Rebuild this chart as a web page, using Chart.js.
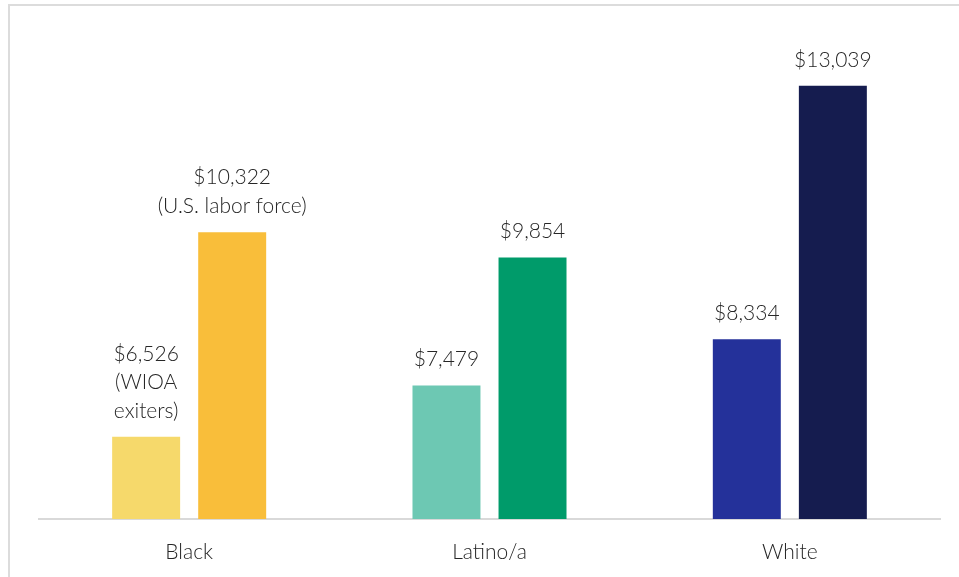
<!DOCTYPE html>
<html>
<head>
<meta charset="utf-8">
<script src="https://cdn.jsdelivr.net/npm/chart.js@4"></script>
<style>
  html, body { margin: 0; padding: 0; background: #fff; overflow: hidden; }
  #frame {
    position: absolute; left: 8px; top: 4px; width: 1000px; height: 600px;
    border-top: 2px solid #dcdcdc; border-left: 2px solid #dcdcdc;
  }
  #wrap { position: absolute; left: 0; top: 0; width: 959px; height: 577px; }
</style>
</head>
<body>
<div id="frame"></div>
<div id="wrap"><canvas id="grafico"></canvas></div>
<script>
// datos
var categorias = ['Black', 'Latino/a', 'White'];
var wioaExiters = [6526, 7479, 8334];
var laborForce = [10322, 9854, 13039];
var coloresWioa = ['#F6D96B', '#6DC8B3', '#24319A'];
var coloresLabor = ['#F9BE3A', '#009B6A', '#151C4F'];
// texto extra bajo el valor (solo en Black)
var notaWioa = [['(WIOA', 'exiters)'], [], []];
var notaLabor = [['(U.S. labor force)'], [], []];

var FUENTE = 'Lato, "Open Sans", sans-serif';

function dinero(v) {
  return '$' + v.toLocaleString('en-US');
}

// etiquetas encima de cada barra
var etiquetas = {
  id: 'etiquetas',
  afterDatasetsDraw: function(chart) {
    var ctx = chart.ctx;
    ctx.save();
    ctx.font = '300 21px ' + FUENTE;
    ctx.fillStyle = '#262626';
    ctx.textAlign = 'center';
    ctx.textBaseline = 'middle';
    chart.data.datasets.forEach(function(ds, i) {
      var notas = i === 0 ? notaWioa : notaLabor;
      chart.getDatasetMeta(i).data.forEach(function(bar, j) {
        var lineas = [dinero(ds.data[j])].concat(notas[j]);
        var y = bar.y - 26 - (lineas.length - 1) * 28.5;
        lineas.forEach(function(t, k) {
          ctx.fillText(t, bar.x, y + k * 28.5);
        });
      });
    });
    ctx.restore();
  }
};

new Chart(document.getElementById('grafico'), {
  type: 'bar',
  data: {
    labels: categorias,
    datasets: [
      { label: 'WIOA exiters', data: wioaExiters, backgroundColor: coloresWioa },
      { label: 'U.S. labor force', data: laborForce, backgroundColor: coloresLabor }
    ]
  },
  options: {
    responsive: true,
    maintainAspectRatio: false,
    animation: false,
    categoryPercentage: 0.573,
    barPercentage: 0.79,
    layout: { padding: { left: 39, right: 19, top: 34, bottom: 0 } },
    plugins: {
      legend: { display: false },
      tooltip: { enabled: false }
    },
    scales: {
      x: {
        grid: { display: false },
        border: { display: true, color: '#d9d9d9', width: 2 },
        ticks: { color: '#262626', font: { family: FUENTE, size: 21, weight: '300' }, padding: 13 },
        afterFit: function(scale) { scale.height = 58; }
      },
      y: {
        display: false,
        min: 5000,
        max: 14000
      }
    }
  },
  plugins: [etiquetas]
});
</script>
</body>
</html>
